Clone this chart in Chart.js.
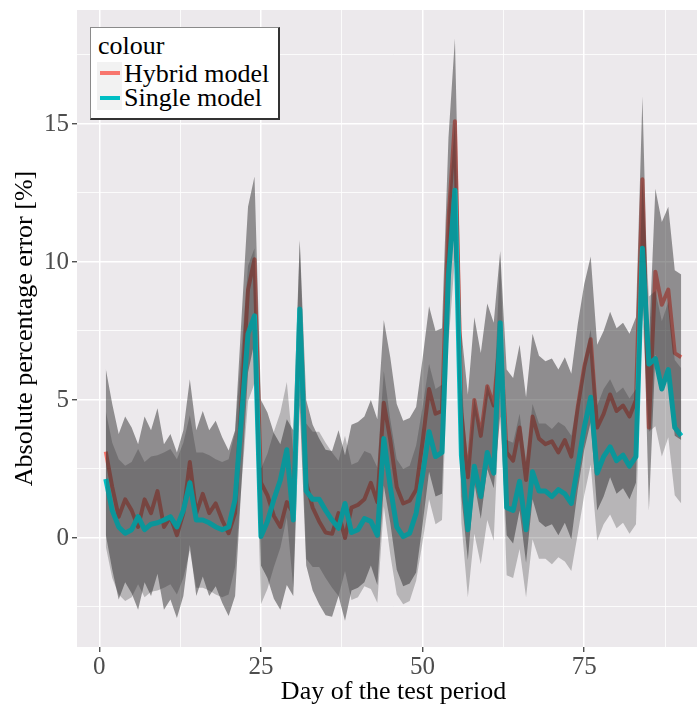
<!DOCTYPE html>
<html>
<head>
<meta charset="utf-8">
<script src="https://cdn.jsdelivr.net/npm/chart.js@4.4.1/dist/chart.umd.min.js"></script>
<style>
  html, body { margin: 0; padding: 0; background: #fff; overflow: hidden; }
  #wrap { position: relative; width: 697px; height: 711px; overflow: hidden; }
  #chart { position: absolute; left: 0; top: 0; }
  #legend {
    position: absolute; left: 90px; top: 27px; width: 190px; height: 93px;
    box-sizing: border-box; background: #fff;
    border-top: 1px solid #8a8a8a; border-left: 1px solid #8a8a8a;
    border-right: 2px solid #333; border-bottom: 2px solid #333;
    font-family: 'Liberation Serif', 'Times New Roman', serif; font-size: 26px; line-height: 26px; color: #000;
  }
  #legend div { position: absolute; white-space: nowrap; }
  .keybg { left: 6px; width: 25px; height: 24px; background: #f2f2f2; }
  .keyline { left: 9px; width: 20px; height: 4px; }
</style>
</head>
<body>
<div id="wrap">
  <canvas id="chart" width="710" height="711"></canvas>
  <div id="legend">
    <div style="left:7px; top:5px;">colour</div>
    <div class="keybg" style="top:34px;"></div>
    <div class="keybg" style="top:58px;"></div>
    <div class="keyline" style="top:43px; background:#F8766D;"></div>
    <div class="keyline" style="top:68px; background:#00BFC4;"></div>
    <div style="left:33px; top:33px;">Hybrid model</div>
    <div style="left:33px; top:57px;">Single model</div>
  </div>
</div>
<script>
// values, one per day of the test period
const days = Array.from({ length: 90 }, (_, i) => i + 1);

const hybrid = [
  3.13, 1.85, 0.77, 1.40, 1.00, 0.40, 1.40, 0.90, 1.70, 0.40,
  0.77, 0.10, 0.90, 2.75, 0.90, 1.60, 0.90, 1.25, 0.65, 0.17,
  0.90, 5.00, 9.00, 10.10, 2.00, 1.55, 0.80, 0.40, 1.30, 0.90,
  7.80, 2.00, 1.10, 0.60, 0.20, 0.15, 0.90, 0.00, 1.10, 1.20,
  1.40, 2.00, 1.30, 4.90, 3.55, 1.85, 1.25, 1.35, 1.75, 3.50,
  5.40, 4.50, 4.60, 11.50, 15.10, 4.50, 2.20, 5.00, 3.70, 5.50,
  4.80, 7.40, 3.10, 2.80, 4.00, 2.10, 4.40, 3.60, 3.40, 3.50,
  3.10, 3.55, 2.95, 4.75, 6.20, 7.20, 4.00, 4.50, 5.20, 4.60,
  4.80, 4.40, 5.00, 13.00, 4.00, 9.65, 8.45, 9.00, 6.70, 6.55,
];
const hybridUpper = [
  6.13, 4.85, 3.77, 4.40, 4.00, 3.40, 4.40, 3.90, 4.70, 3.40,
  3.77, 3.10, 3.90, 5.75, 3.90, 4.60, 3.90, 4.25, 3.65, 3.17,
  3.90, 8.00, 12.00, 13.10, 5.00, 4.55, 3.80, 3.40, 4.30, 3.90,
  10.80, 5.00, 4.10, 3.60, 3.20, 3.15, 3.90, 3.00, 4.10, 4.20,
  4.40, 5.00, 4.30, 7.90, 6.55, 4.85, 4.25, 4.35, 4.75, 6.50,
  8.40, 7.50, 7.60, 14.50, 18.10, 7.50, 5.20, 8.00, 6.70, 8.50,
  7.80, 10.40, 6.10, 5.80, 7.00, 5.10, 7.40, 6.60, 6.40, 6.50,
  6.10, 6.55, 5.95, 7.75, 9.20, 10.20, 7.00, 7.50, 8.20, 7.60,
  7.80, 7.40, 8.00, 16.00, 7.00, 12.65, 11.45, 12.00, 9.70, 9.55,
];
const hybridLower = [
  0.13, -1.15, -2.23, -1.60, -2.00, -2.60, -1.60, -2.10, -1.30, -2.60,
  -2.23, -2.90, -2.10, -0.25, -2.10, -1.40, -2.10, -1.75, -2.35, -2.83,
  -2.10, 2.00, 6.00, 7.10, -1.00, -1.45, -2.20, -2.60, -1.70, -2.10,
  4.80, -1.00, -1.90, -2.40, -2.80, -2.85, -2.10, -3.00, -1.90, -1.80,
  -1.60, -1.00, -1.70, 1.90, 0.55, -1.15, -1.75, -1.65, -1.25, 0.50,
  2.40, 1.50, 1.60, 8.50, 12.10, 1.50, -0.80, 2.00, 0.70, 2.50,
  1.80, 4.40, 0.10, -0.20, 1.00, -0.90, 1.40, 0.60, 0.40, 0.50,
  0.10, 0.55, -0.05, 1.75, 3.20, 4.20, 1.00, 1.50, 2.20, 1.60,
  1.80, 1.40, 2.00, 10.00, 1.00, 6.65, 5.45, 6.00, 3.70, 3.55,
];

const single = [
  2.14, 1.00, 0.40, 0.17, 0.30, 0.77, 0.30, 0.50, 0.55, 0.65,
  0.77, 0.40, 1.00, 2.00, 0.65, 0.65, 0.55, 0.40, 0.30, 0.40,
  1.40, 4.40, 7.40, 8.05, 0.05, 0.60, 1.40, 2.10, 3.20, 0.65,
  8.30, 1.70, 1.40, 1.40, 1.00, 0.65, 0.35, 1.25, 0.20, 0.30,
  0.70, 0.60, 0.10, 3.60, 1.85, 0.40, 0.05, 0.17, 0.90, 2.30,
  3.85, 2.95, 3.10, 9.50, 12.60, 3.00, 0.30, 2.60, 1.50, 3.10,
  2.35, 7.80, 1.10, 1.00, 2.05, 0.30, 2.40, 1.70, 1.70, 1.50,
  1.75, 1.60, 1.25, 2.60, 4.00, 5.10, 2.35, 2.95, 3.30, 2.80,
  3.00, 2.60, 2.95, 10.50, 6.30, 6.50, 5.40, 6.10, 4.00, 3.70,
];
const singleUpper = [
  4.59, 3.45, 2.85, 2.62, 2.75, 3.22, 2.75, 2.95, 3.00, 3.10,
  3.22, 2.85, 3.45, 4.45, 3.10, 3.10, 3.00, 2.85, 2.75, 2.85,
  3.85, 6.85, 9.85, 10.50, 2.50, 3.05, 3.85, 4.55, 5.65, 3.10,
  10.75, 4.15, 3.85, 3.85, 3.45, 3.10, 2.80, 3.70, 2.65, 2.75,
  3.15, 3.05, 2.55, 6.05, 4.30, 2.85, 2.50, 2.62, 3.35, 4.75,
  6.30, 5.40, 5.55, 11.95, 15.05, 5.45, 2.75, 5.05, 3.95, 5.55,
  4.80, 10.25, 3.55, 3.45, 4.50, 2.75, 4.85, 4.15, 4.15, 3.95,
  4.20, 4.05, 3.70, 5.05, 6.45, 7.55, 4.80, 5.40, 5.75, 5.25,
  5.45, 5.05, 5.40, 12.95, 8.75, 8.95, 7.85, 8.55, 6.45, 6.15,
];
const singleLower = [
  -0.31, -1.45, -2.05, -2.28, -2.15, -1.68, -2.15, -1.95, -1.90, -1.80,
  -1.68, -2.05, -1.45, -0.45, -1.80, -1.80, -1.90, -2.05, -2.15, -2.05,
  -1.05, 1.95, 4.95, 5.60, -2.40, -1.85, -1.05, -0.35, 0.75, -1.80,
  5.85, -0.75, -1.05, -1.05, -1.45, -1.80, -2.10, -1.20, -2.25, -2.15,
  -1.75, -1.85, -2.35, 1.15, -0.60, -2.05, -2.40, -2.28, -1.55, -0.15,
  1.40, 0.50, 0.65, 7.05, 10.15, 0.55, -2.15, 0.15, -0.95, 0.65,
  -0.10, 5.35, -1.35, -1.45, -0.40, -2.15, -0.05, -0.75, -0.75, -0.95,
  -0.70, -0.85, -1.20, 0.15, 1.55, 2.65, -0.10, 0.50, 0.85, 0.35,
  0.55, 0.15, 0.50, 8.05, 3.85, 4.05, 2.95, 3.65, 1.55, 1.25,
];

const xTicks = [0, 12.5, 25, 37.5, 50, 62.5, 75, 87.5];
const xLabels = [0, 25, 50, 75];
const yTicks = [-2.5, 0, 2.5, 5, 7.5, 10, 12.5, 15, 17.5];
const yLabels = [0, 5, 10, 15];

const RED = '#F8766D';
const TEAL = '#00BFC4';
const PANEL = '#ECE9EC';

const points = (ys) => days.map((d, i) => ({ x: d, y: ys[i] }));

const edge = (data, fill, colour, order) => ({
  data: points(data),
  fill,
  backgroundColor: colour,
  borderColor: 'rgba(0,0,0,0)',
  borderWidth: 0,
  pointRadius: 0,
  order,
});

const line = (data, colour, width, order) => ({
  data: points(data),
  fill: false,
  borderColor: colour,
  borderWidth: width,
  borderJoinStyle: 'round',
  pointRadius: 0,
  order,
});

const panelBackground = {
  id: 'panelBackground',
  beforeDraw(chart) {
    const { ctx, chartArea: a } = chart;
    ctx.save();
    ctx.fillStyle = PANEL;
    ctx.fillRect(a.left, a.top, a.right - a.left, a.bottom - a.top);
    ctx.restore();
  },
};

function gridOptions(labels) {
  const isMajor = (c) => c.tick && labels.includes(c.tick.value);
  return {
    color: '#ffffff',
    lineWidth: (c) => (isMajor(c) ? 1.5 : 0.8),
    tickLength: 5,
    tickWidth: 1.2,
    tickColor: (c) => (isMajor(c) ? '#333333' : 'rgba(0,0,0,0)'),
  };
}

Chart.defaults.font.family = "'Liberation Serif', 'Times New Roman', serif";

new Chart(document.getElementById('chart'), {
  type: 'line',
  data: {
    datasets: [
      edge(hybridUpper, '+1', 'rgba(39,39,39,0.47)', 3),
      edge(hybridLower, false, 'rgba(0,0,0,0)', 3),
      line(hybrid, RED, 4, 4),
      edge(singleUpper, '+1', 'rgba(39,39,39,0.27)', 1),
      edge(singleLower, false, 'rgba(0,0,0,0)', 1),
      line(single, TEAL, 5, 2),
    ],
  },
  options: {
    responsive: false,
    animation: false,
    layout: { padding: { left: 0, right: 0, top: 10, bottom: 0 } },
    elements: { line: { tension: 0 } },
    plugins: { legend: { display: false }, tooltip: { enabled: false } },
    scales: {
      x: {
        type: 'linear',
        min: -3.45,
        max: 94.45,
        afterBuildTicks: (s) => { s.ticks = xTicks.map((v) => ({ value: v })); },
        afterFit: (s) => { s.height = 64; s.paddingLeft = 0; s.paddingRight = 0; },
        grid: gridOptions(xLabels),
        border: { display: false },
        ticks: {
          autoSkip: false,
          maxRotation: 0,
          padding: 0,
          color: '#4D4D4D',
          font: { size: 25 },
          callback: (v) => (xLabels.includes(v) ? String(v) : ''),
        },
        title: {
          display: true,
          text: 'Day of the test period',
          color: '#000',
          font: { size: 26 },
          padding: { top: 0, bottom: 3 },
        },
      },
      y: {
        type: 'linear',
        min: -3.95,
        max: 19.13,
        afterBuildTicks: (s) => { s.ticks = yTicks.map((v) => ({ value: v })); },
        afterFit: (s) => { s.width = 77; s.paddingTop = 0; s.paddingBottom = 0; },
        grid: gridOptions(yLabels),
        border: { display: false },
        ticks: {
          autoSkip: false,
          padding: 3,
          color: '#4D4D4D',
          font: { size: 25 },
          callback: (v) => (yLabels.includes(v) ? String(v) : ''),
        },
        title: {
          display: true,
          text: 'Absolute percentage error [%]',
          color: '#000',
          font: { size: 26 },
          padding: { top: 10, bottom: 0 },
        },
      },
    },
  },
  plugins: [panelBackground],
});
</script>
</body>
</html>
